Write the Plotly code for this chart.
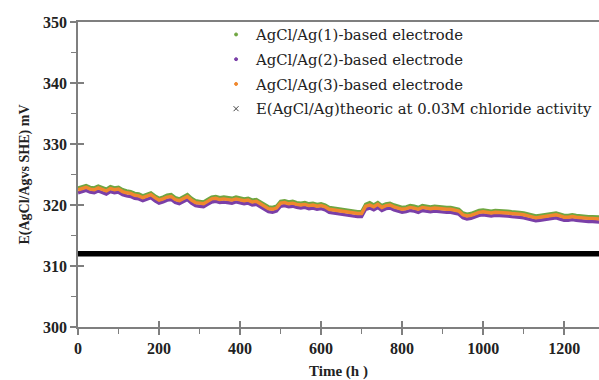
import plotly.graph_objects as go

time_h = list(range(0, 1300, 10))

e_orange = [322.5, 322.7, 322.9, 322.6, 322.5, 322.8, 322.6, 322.3, 322.7, 322.5,
            322.6, 322.2, 322.0, 321.9, 321.6, 321.5, 321.2, 321.5, 321.7, 321.2,
            320.8, 321.0, 321.3, 321.4, 320.9, 320.7, 321.1, 321.4, 320.8, 320.4,
            320.3, 320.2, 320.6, 321.0, 321.1, 320.9, 321.0, 320.9, 320.8, 321.0,
            320.8, 320.7, 320.8, 320.5, 320.6, 320.2, 319.8, 319.4, 319.3, 319.5,
            320.3, 320.4, 320.2, 320.3, 320.1, 320.0, 320.1, 319.9, 320.0, 319.8,
            319.9, 319.7, 319.3, 319.2, 319.1, 318.9, 318.8, 318.7, 318.7, 318.6,
            318.6, 319.8, 320.0, 319.7, 320.1, 319.6, 319.9, 320.0, 319.7, 319.5,
            319.3, 319.4, 319.6, 319.5, 319.3, 319.6, 319.5, 319.4, 319.5, 319.4,
            319.4, 319.3, 319.3, 319.2, 319.0, 318.4, 318.2, 318.3, 318.6, 318.8,
            318.9, 318.8, 318.7, 318.8, 318.8, 318.7, 318.7, 318.6, 318.6, 318.5,
            318.4, 318.2, 318.0, 317.9, 318.0, 318.1, 318.2, 318.3, 318.4, 318.2,
            318.0, 318.0, 318.1, 318.0, 317.9, 317.9, 317.8, 317.8, 317.7, 317.7]

e_green = [322.8, 323.0, 323.2, 322.9, 322.8, 323.1, 322.9, 322.6, 323.0, 322.8,
           322.9, 322.5, 322.3, 322.2, 321.9, 321.8, 321.5, 321.8, 322.0, 321.5,
           321.1, 321.3, 321.6, 321.7, 321.2, 321.0, 321.4, 321.7, 321.1, 320.7,
           320.6, 320.5, 320.9, 321.3, 321.4, 321.2, 321.3, 321.2, 321.1, 321.3,
           321.1, 321.0, 321.1, 320.8, 320.9, 320.5, 320.1, 319.7, 319.6, 319.8,
           320.6, 320.7, 320.5, 320.6, 320.4, 320.3, 320.4, 320.2, 320.3, 320.1,
           320.2, 320.0, 319.6, 319.5, 319.4, 319.2, 319.1, 319.0, 319.0, 318.9,
           318.9, 320.1, 320.4, 320.0, 320.4, 319.9, 320.2, 320.3, 320.0, 319.8,
           319.6, 319.7, 319.9, 319.8, 319.6, 319.9, 319.8, 319.7, 319.8, 319.7,
           319.7, 319.6, 319.6, 319.5, 319.3, 318.7, 318.5, 318.6, 318.9, 319.1,
           319.2, 319.1, 319.0, 319.1, 319.1, 319.0, 319.0, 318.9, 318.9, 318.8,
           318.7, 318.5, 318.3, 318.2, 318.3, 318.4, 318.5, 318.6, 318.7, 318.5,
           318.3, 318.3, 318.4, 318.3, 318.2, 318.2, 318.1, 318.1, 318.0, 318.0]

e_purple = [322.0, 322.2, 322.4, 322.1, 322.0, 322.3, 322.1, 321.8, 322.2, 322.0,
            322.1, 321.7, 321.5, 321.4, 321.1, 321.0, 320.7, 321.0, 321.2, 320.7,
            320.3, 320.5, 320.8, 320.9, 320.4, 320.2, 320.6, 320.9, 320.3, 319.9,
            319.8, 319.7, 320.1, 320.5, 320.6, 320.4, 320.5, 320.4, 320.3, 320.5,
            320.3, 320.2, 320.3, 320.0, 320.1, 319.7, 319.3, 318.9, 318.8, 319.0,
            319.8, 319.9, 319.7, 319.8, 319.6, 319.5, 319.6, 319.4, 319.5, 319.3,
            319.4, 319.2, 318.8, 318.7, 318.6, 318.4, 318.3, 318.2, 318.2, 318.1,
            318.1, 319.3, 319.5, 319.2, 319.6, 319.1, 319.4, 319.5, 319.2, 319.0,
            318.8, 318.9, 319.1, 319.0, 318.8, 319.1, 319.0, 318.9, 319.0, 318.9,
            318.9, 318.8, 318.8, 318.7, 318.5, 317.9, 317.7, 317.8, 318.1, 318.3,
            318.4, 318.3, 318.2, 318.3, 318.3, 318.2, 318.2, 318.1, 318.1, 318.0,
            317.9, 317.7, 317.5, 317.4, 317.5, 317.6, 317.7, 317.8, 317.9, 317.7,
            317.5, 317.5, 317.6, 317.5, 317.4, 317.4, 317.3, 317.3, 317.2, 317.2]

e_theoric = [312.0] * len(time_h)

legend_names = ["AgCl/Ag(1)-based electrode",
                "AgCl/Ag(2)-based electrode",
                "AgCl/Ag(3)-based electrode",
                "E(AgCl/Ag)theoric at 0.03M chloride activity"]

y_ticks = [300, 310, 320, 330, 340, 350]
x_ticks = [0, 200, 400, 600, 800, 1000, 1200]

GREEN = "#6fa640"
PURPLE = "#7a3fa8"
ORANGE = "#f0882e"
AXIS = "#7f7f7f"
SERIF = "Liberation Serif"
LEG_FONT = "DejaVu Serif"

fig = go.Figure()

fig.add_trace(go.Scatter(x=time_h, y=e_green, mode="lines", line=dict(color=GREEN, width=3.4),
                         showlegend=False))
fig.add_trace(go.Scatter(x=time_h, y=e_purple, mode="lines", line=dict(color=PURPLE, width=3.4),
                         showlegend=False))
fig.add_trace(go.Scatter(x=time_h, y=e_orange, mode="lines", line=dict(color=ORANGE, width=3.4),
                         showlegend=False))
fig.add_trace(go.Scatter(x=time_h, y=e_theoric, mode="lines", line=dict(color="black", width=5.5),
                         showlegend=False))

for i, (name, col, sym) in enumerate(zip(legend_names, [GREEN, PURPLE, ORANGE, "#444444"],
                                         ["circle", "circle", "circle", "x-thin-open"])):
    fig.add_trace(go.Scatter(x=[None], y=[None], mode="markers", name=name, legendgroup=f"g{i}",
                             marker=dict(color=col, size=3 if sym == "circle" else 5, symbol=sym,
                                         line=dict(color=col, width=1))))

fig.add_trace(go.Scatter(x=[None], y=[None], xaxis="x2", yaxis="y2", showlegend=False))

fig.update_layout(
    width=599, height=380,
    margin=dict(l=78, r=0, t=22, b=53, autoexpand=False),
    paper_bgcolor="white", plot_bgcolor="white",
    font=dict(family=SERIF, color="#222222"),
    showlegend=True,
    legend=dict(x=0.265, y=1.012, xanchor="left", yanchor="top",
                bgcolor="rgba(0,0,0,0)", font=dict(size=14.8, family=LEG_FONT, color="#222222"),
                itemwidth=30, tracegroupgap=2.5),
    xaxis=dict(range=[0, 1286], tickvals=x_ticks, ticktext=[f"<b>{v}</b>" for v in x_ticks],
               showgrid=False, zeroline=False, showline=True, linecolor=AXIS, linewidth=1.5,
               mirror=True, ticks="outside", ticklen=6, tickcolor=AXIS, tickwidth=1.5,
               tickfont=dict(size=16, family=SERIF, color="#222222"),
               minor=dict(tickvals=[100, 300, 500, 700, 900, 1100], ticks="outside",
                          ticklen=5, tickcolor=AXIS, tickwidth=1.2),
               title=dict(text="<b>Time (h )</b>", font=dict(size=15, family=SERIF, color="#222222"),
                          standoff=10)),
    yaxis=dict(range=[300, 350], tickvals=y_ticks, ticktext=[f"<b>{v}</b>" for v in y_ticks],
               showgrid=False, zeroline=False, showline=True, linecolor=AXIS, linewidth=1.5,
               ticks="outside", ticklen=6, tickcolor=AXIS, tickwidth=1.5,
               tickfont=dict(size=16, family=SERIF, color="#222222"),
               minor=dict(tickvals=[305, 315, 325, 335, 345], ticks="outside",
                          ticklen=5, tickcolor=AXIS, tickwidth=1.2),
               title=dict(text="<b>E(AgCl/Agvs SHE) mV</b>",
                          font=dict(size=14, family=SERIF, color="#222222"), standoff=10)),
    xaxis2=dict(overlaying="x", anchor="y2", range=[0, 1286], tickvals=x_ticks, showticklabels=False,
                showgrid=False, zeroline=False, showline=False, ticks="inside", ticklen=6,
                tickcolor=AXIS, tickwidth=1.5),
    yaxis2=dict(overlaying="y", anchor="x2", range=[300, 350], tickvals=y_ticks, showticklabels=False,
                showgrid=False, zeroline=False, showline=False, ticks="inside", ticklen=6,
                tickcolor=AXIS, tickwidth=1.5),
)

fig.write_html("out.html")
